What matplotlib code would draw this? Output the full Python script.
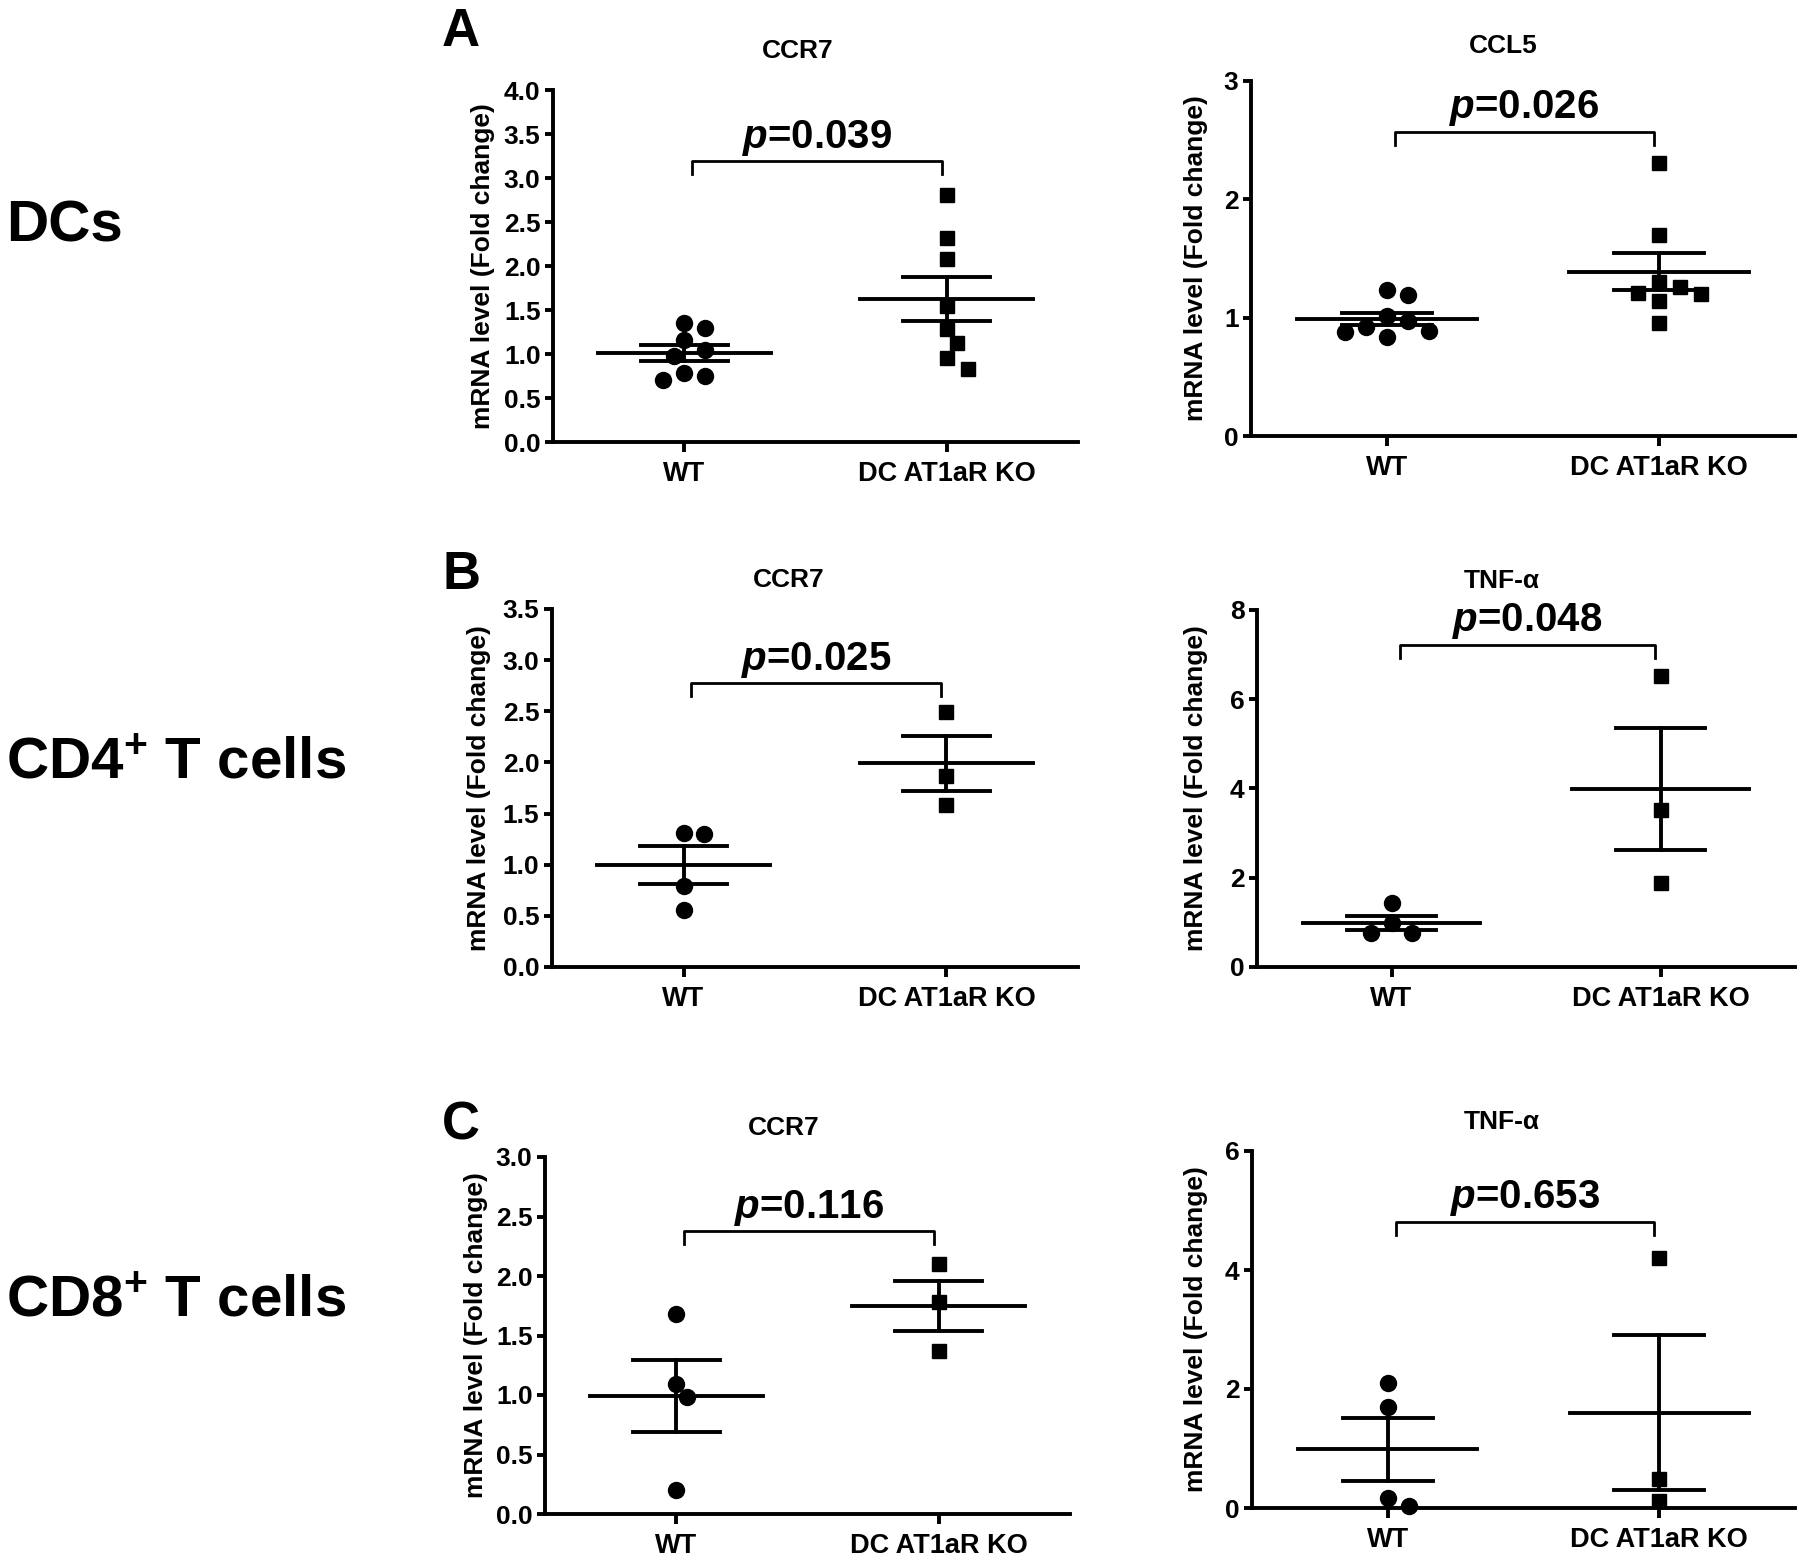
import numpy as np
import matplotlib
matplotlib.use('Agg')
import matplotlib.pyplot as plt

plt.rcParams['font.family'] = ['Liberation Sans', 'DejaVu Sans']
plt.rcParams['font.weight'] = 'bold'
plt.rcParams['mathtext.fontset'] = 'custom'
plt.rcParams['mathtext.rm'] = 'Liberation Sans:bold'
plt.rcParams['mathtext.it'] = 'Liberation Sans:bold:italic'
plt.rcParams['mathtext.bf'] = 'Liberation Sans:bold'

groups = ['WT', 'DC AT1aR KO']
row_labels = ['DCs', 'CD4$^{+}$ T cells', 'CD8$^{+}$ T cells']
panel_letters = ['A', 'B', 'C']

# DCs
dc_ccr7_wt = [1.35, 1.30, 1.16, 1.04, 0.98, 0.78, 0.75, 0.71]
dc_ccr7_ko = [2.81, 2.32, 2.08, 1.55, 1.28, 1.12, 0.95, 0.83]
dc_ccr7_mean = [1.01, 1.62]
dc_ccr7_sem = [0.09, 0.25]

dc_ccl5_wt = [1.23, 1.195, 1.01, 0.975, 0.924, 0.885, 0.876, 0.84]
dc_ccl5_ko = [2.31, 1.695, 1.30, 1.257, 1.206, 1.20, 1.144, 0.955]
dc_ccl5_mean = [0.99, 1.39]
dc_ccl5_sem = [0.048, 0.155]

# CD4+ T cells
cd4_ccr7_wt = [1.31, 1.30, 0.79, 0.56]
cd4_ccr7_ko = [2.49, 1.87, 1.58]
cd4_ccr7_mean = [1.0, 1.99]
cd4_ccr7_sem = [0.185, 0.268]

cd4_tnf_wt = [1.43, 0.985, 0.76, 0.76]
cd4_tnf_ko = [6.51, 3.52, 1.88]
cd4_tnf_mean = [0.985, 3.985]
cd4_tnf_sem = [0.158, 1.36]

# CD8+ T cells
cd8_ccr7_wt = [1.68, 1.09, 0.98, 0.20]
cd8_ccr7_ko = [2.10, 1.78, 1.37]
cd8_ccr7_mean = [0.99, 1.75]
cd8_ccr7_sem = [0.304, 0.211]

cd8_tnf_wt = [2.10, 1.70, 0.16, 0.03]
cd8_tnf_ko = [4.20, 0.48, 0.12]
cd8_tnf_mean = [0.99, 1.60]
cd8_tnf_sem = [0.528, 1.30]

titles = ['CCR7', 'CCL5', 'CCR7', 'TNF-\u03b1', 'CCR7', 'TNF-\u03b1']
p_values = ['0.039', '0.026', '0.025', '0.048', '0.116', '0.653']
y_max = [4.0, 3, 3.5, 8, 3.0, 6]
y_step = [0.5, 1, 0.5, 2, 0.5, 2]
y_fmt = ['{:.1f}', '{:.0f}', '{:.1f}', '{:.0f}', '{:.1f}', '{:.0f}']
bracket_y = [3.19, 2.57, 2.775, 7.22, 2.375, 4.81]

wt_data = [dc_ccr7_wt, dc_ccl5_wt, cd4_ccr7_wt, cd4_tnf_wt, cd8_ccr7_wt, cd8_tnf_wt]
ko_data = [dc_ccr7_ko, dc_ccl5_ko, cd4_ccr7_ko, cd4_tnf_ko, cd8_ccr7_ko, cd8_tnf_ko]
means = [dc_ccr7_mean, dc_ccl5_mean, cd4_ccr7_mean, cd4_tnf_mean, cd8_ccr7_mean, cd8_tnf_mean]
sems = [dc_ccr7_sem, dc_ccl5_sem, cd4_ccr7_sem, cd4_tnf_sem, cd8_ccr7_sem, cd8_tnf_sem]

W, H = 1800, 1566
DPI = 100

# axes boxes in pixels: left, right, top, bottom
boxes = [(553, 1078, 90, 442), (1251, 1795, 81, 436),
         (552, 1078, 609, 967), (1257, 1795, 610, 967),
         (545, 1070, 1157, 1514), (1252, 1795, 1151, 1508)]
title_pos = [(798, 51), (1503, 46), (789, 580), (1502, 581), (784, 1128), (1502, 1122)]
ylabel_dx = [70, 55, 73, 61, 69, 56]

MS = 11.5          # marker size (pt)
LW = 2.8           # line width (pt)


def swarm_x(vals, center, sx, sy, diam):
    """Greedy beeswarm in pixel space; returns x positions in data units."""
    placed = []
    xs = []
    cands = [0.0]
    for i in range(1, 12):
        cands += [0.5 * i, -0.5 * i]
    step = diam * 1.3
    for v in vals:
        yp = v * sy
        for c in cands:
            xp = c * step
            if all((xp - px) ** 2 + (yp - py) ** 2 >= diam ** 2 for px, py in placed):
                break
        placed.append((xp, yp))
        xs.append(center + xp / sx)
    return xs


fig = plt.figure(figsize=(W / DPI, H / DPI), dpi=DPI)

for i in range(6):
    x0, x1, yt, yb = boxes[i]
    ax = fig.add_axes([x0 / W, 1 - yb / H, (x1 - x0) / W, (yb - yt) / H])
    ax.set_xlim(0.5, 2.5)
    ax.set_ylim(0, y_max[i])
    sx = (x1 - x0) / 2.0
    sy = (yb - yt) / y_max[i]
    diam = MS * DPI / 72.0

    xs_wt = swarm_x(wt_data[i], 1, sx, sy, diam)
    xs_ko = swarm_x(ko_data[i], 2, sx, sy, diam)
    ax.plot(xs_wt, wt_data[i], 'o', color='black', ms=MS, clip_on=False, zorder=3)
    ax.plot(xs_ko, ko_data[i], 's', color='black', ms=MS * 0.92, clip_on=False, zorder=3)

    for g in range(2):
        xc = g + 1
        m, s = means[i][g], sems[i][g]
        ax.plot([xc - 0.33, xc + 0.33], [m, m], color='black', lw=LW, zorder=4)
        ax.plot([xc - 0.165, xc + 0.165], [m + s, m + s], color='black', lw=LW, zorder=4)
        ax.plot([xc - 0.165, xc + 0.165], [m - s, m - s], color='black', lw=LW, zorder=4)
        ax.plot([xc, xc], [m - s, m + s], color='black', lw=LW, zorder=4)

    # significance bracket
    by = bracket_y[i]
    drop = 13 / sy
    ax.plot([1.03, 1.03, 1.98, 1.98], [by - drop, by, by, by - drop],
            color='black', lw=2.0, clip_on=False)
    ax.annotate('$p$=' + p_values[i], xy=(1.505, by), xytext=(0, 2.5),
                textcoords='offset points', ha='center', va='bottom',
                fontsize=29, fontweight='bold')

    ticks = np.arange(0, y_max[i] + 1e-9, y_step[i])
    ax.set_yticks(ticks)
    ax.set_yticklabels([y_fmt[i].format(t) for t in ticks], fontsize=19, fontweight='bold')
    ax.set_xticks([1, 2])
    ax.set_xticklabels(groups, fontsize=19.5, fontweight='bold')
    ax.tick_params(axis='y', direction='out', length=6, width=LW, pad=3)
    ax.tick_params(axis='x', direction='out', length=7, width=LW, pad=7)
    for side in ['top', 'right']:
        ax.spines[side].set_visible(False)
    for side in ['left', 'bottom']:
        ax.spines[side].set_linewidth(LW)
    ax.patch.set_alpha(0)

    ax.text(-ylabel_dx[i] / (x1 - x0), 0.5, 'mRNA level (Fold change)',
            transform=ax.transAxes, rotation=90, ha='center', va='center',
            fontsize=19, fontweight='bold')

    tx, ty = title_pos[i]
    fig.text(tx / W, 1 - ty / H, titles[i], ha='center', va='center',
             fontsize=19, fontweight='bold')

letter_base = [46, 589, 1139]
row_base = [241, 778, 1316]
for r in range(3):
    fig.text(442 / W, 1 - letter_base[r] / H, panel_letters[r], ha='left',
             va='baseline', fontsize=38, fontweight='bold')
    fig.text(6 / W, 1 - row_base[r] / H, row_labels[r], ha='left',
             va='baseline', fontsize=42, fontweight='bold')

fig.savefig('out.png', dpi=DPI, facecolor='white')
